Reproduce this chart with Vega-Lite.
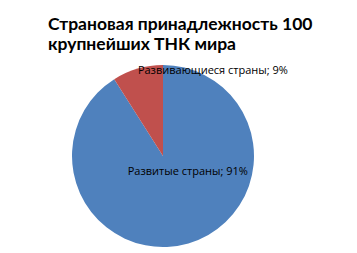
{
  "$schema": "https://vega.github.io/schema/vega-lite/v6.json",
  "autosize": "none",
  "width": 182,
  "height": 182,
  "padding": {"left": 72, "top": 65, "right": 103, "bottom": 6},
  "background": "white",
  "title": {
    "text": ["Страновая принадлежность 100", "крупнейших ТНК мира"],
    "anchor": "start",
    "frame": "bounds",
    "orient": "top",
    "dx": -24,
    "offset": 11,
    "font": "Lato",
    "fontSize": 17.5,
    "fontWeight": "bold",
    "color": "#000000",
    "lineHeight": 20
  },
  "data": {
    "values": [
      {"group": "Развитые страны", "share": 91, "label": "Развитые страны; 91%"},
      {"group": "Развивающиеся страны", "share": 9, "label": "Развивающиеся страны; 9%"}
    ]
  },
  "view": {"stroke": null},
  "encoding": {
    "theta": {"field": "share", "type": "quantitative", "stack": true},
    "order": {"field": "share", "type": "quantitative", "sort": "descending"}
  },
  "layer": [
    {
      "mark": {"type": "arc", "outerRadius": 91},
      "encoding": {
        "color": {
          "field": "group",
          "type": "nominal",
          "scale": {"domain": ["Развитые страны", "Развивающиеся страны"], "range": ["#4F81BD", "#C0504D"]},
          "legend": null
        }
      }
    },
    {
      "mark": {"type": "text", "radius": 90, "align": "left", "baseline": "middle", "dy": 1, "font": "Open Sans", "fontSize": 11, "color": "#000000"},
      "encoding": {"text": {"condition": {"test": "datum.share < 50", "field": "label"}, "value": ""}}
    },
    {
      "mark": {"type": "text", "radius": 17, "align": "left", "baseline": "middle", "dx": -40, "font": "Open Sans", "fontSize": 11, "color": "#000000"},
      "encoding": {"text": {"condition": {"test": "datum.share >= 50", "field": "label"}, "value": ""}}
    }
  ]
}
